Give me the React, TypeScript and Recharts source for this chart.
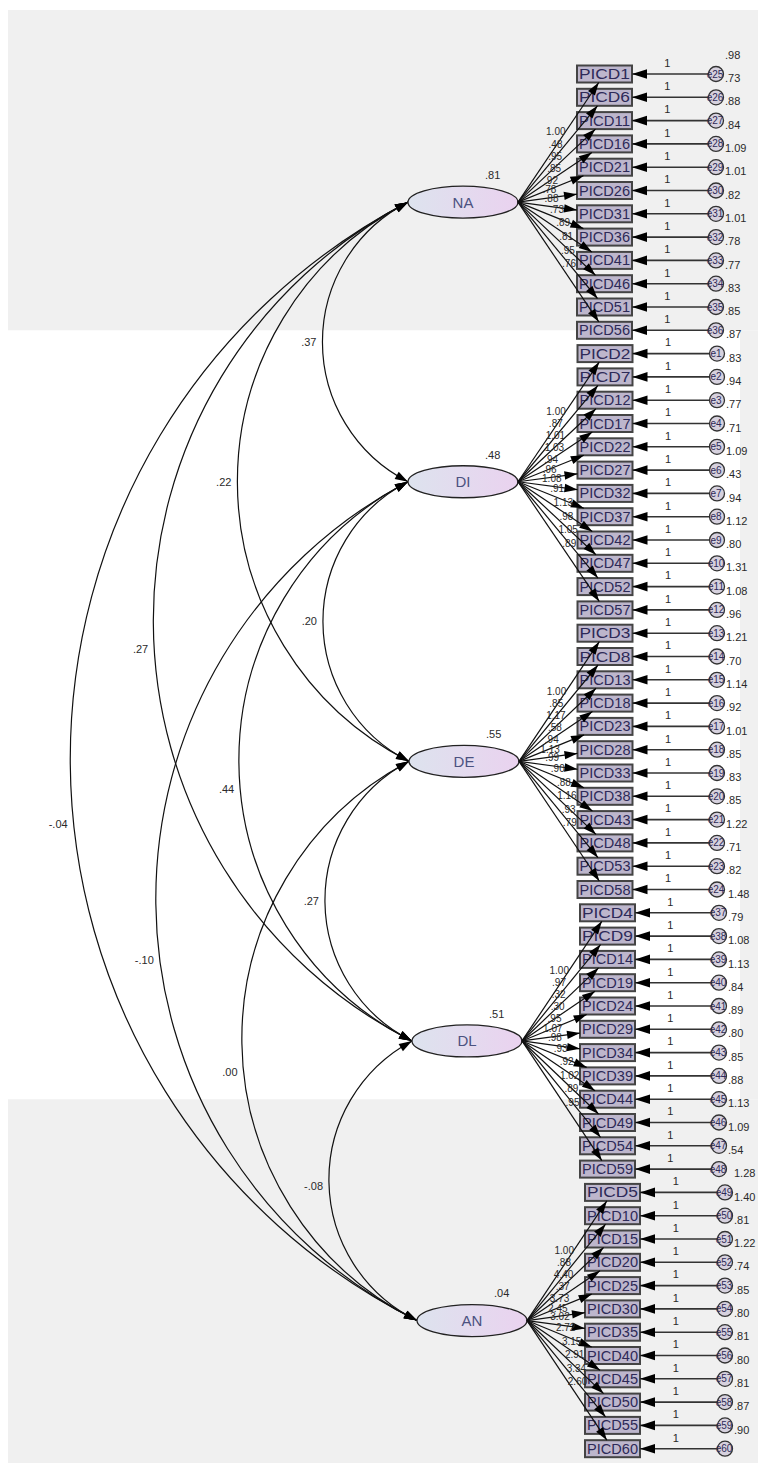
import React from 'react';
import { ScatterChart, Scatter, XAxis, YAxis, ReferenceArea } from 'recharts';

// ---- data ----
const FACTORS = ['NA', 'DI', 'DE', 'DL', 'AN'];
const FACTOR_VARIANCES = [0.81, 0.48, 0.55, 0.51, 0.04];

const ITEMS_NA = ['PICD1', 'PICD6', 'PICD11', 'PICD16', 'PICD21', 'PICD26', 'PICD31', 'PICD36', 'PICD41', 'PICD46', 'PICD51', 'PICD56'];
const ITEMS_DI = ['PICD2', 'PICD7', 'PICD12', 'PICD17', 'PICD22', 'PICD27', 'PICD32', 'PICD37', 'PICD42', 'PICD47', 'PICD52', 'PICD57'];
const ITEMS_DE = ['PICD3', 'PICD8', 'PICD13', 'PICD18', 'PICD23', 'PICD28', 'PICD33', 'PICD38', 'PICD43', 'PICD48', 'PICD53', 'PICD58'];
const ITEMS_DL = ['PICD4', 'PICD9', 'PICD14', 'PICD19', 'PICD24', 'PICD29', 'PICD34', 'PICD39', 'PICD44', 'PICD49', 'PICD54', 'PICD59'];
const ITEMS_AN = ['PICD5', 'PICD10', 'PICD15', 'PICD20', 'PICD25', 'PICD30', 'PICD35', 'PICD40', 'PICD45', 'PICD50', 'PICD55', 'PICD60'];

const ERRORS_NA = ['e25', 'e26', 'e27', 'e28', 'e29', 'e30', 'e31', 'e32', 'e33', 'e34', 'e35', 'e36'];
const ERRORS_DI = ['e1', 'e2', 'e3', 'e4', 'e5', 'e6', 'e7', 'e8', 'e9', 'e10', 'e11', 'e12'];
const ERRORS_DE = ['e13', 'e14', 'e15', 'e16', 'e17', 'e18', 'e19', 'e20', 'e21', 'e22', 'e23', 'e24'];
const ERRORS_DL = ['e37', 'e38', 'e39', 'e40', 'e41', 'e42', 'e43', 'e44', 'e45', 'e46', 'e47', 'e48'];
const ERRORS_AN = ['e49', 'e50', 'e51', 'e52', 'e53', 'e54', 'e55', 'e56', 'e57', 'e58', 'e59', 'e60'];

// regression weights (first few readable, the rest estimated)
const LOADINGS_NA = [1.0, 0.48, 0.95, 0.85, 0.92, 0.78, 0.88, 0.73, 0.89, 0.81, 0.95, 0.76];
const LOADINGS_DI = [1.0, 0.87, 1.01, 1.03, 0.94, 0.96, 1.08, 0.91, 1.13, 0.98, 1.05, 0.89];
const LOADINGS_DE = [1.0, 0.85, 1.17, 0.58, 0.94, 1.13, 0.99, 0.9, 0.88, 1.16, 0.93, 0.79];
const LOADINGS_DL = [1.0, 0.97, 0.32, 0.3, 0.95, 1.07, 0.98, 0.93, 0.92, 1.02, 0.89, 0.95];
const LOADINGS_AN = [1.0, 0.88, 4.4, 0.37, 3.73, 2.45, 3.02, 2.72, 3.15, 2.91, 3.34, 2.6];

// error variances
const ERRVAR_NA = [0.98, 0.73, 0.88, 0.84, 1.09, 1.01, 0.82, 1.01, 0.78, 0.77, 0.83, 0.85];
const ERRVAR_DI = [0.87, 0.83, 0.94, 0.77, 0.71, 1.09, 0.43, 0.94, 1.12, 0.8, 1.31, 1.08];
const ERRVAR_DE = [0.96, 1.21, 0.7, 1.14, 0.92, 1.01, 0.85, 0.83, 0.85, 1.22, 0.71, 0.82];
const ERRVAR_DL = [1.48, 0.79, 1.08, 1.13, 0.84, 0.89, 0.8, 0.85, 0.88, 1.13, 1.09, 0.54];
const ERRVAR_AN = [1.28, 1.4, 0.81, 1.22, 0.74, 0.85, 0.8, 0.81, 0.8, 0.81, 0.87, 0.9];

// factor covariances: [from, to, value]
const COVARIANCES: [string, string, number][] = [
  ['NA', 'DI', 0.37],
  ['NA', 'DE', 0.22],
  ['NA', 'DL', 0.27],
  ['NA', 'AN', -0.04],
  ['DI', 'DE', 0.2],
  ['DI', 'DL', 0.44],
  ['DI', 'AN', -0.1],
  ['DE', 'DL', 0.27],
  ['DE', 'AN', 0.0],
  ['DL', 'AN', -0.08],
];

const ITEMS = [ITEMS_NA, ITEMS_DI, ITEMS_DE, ITEMS_DL, ITEMS_AN];
const ERRORS = [ERRORS_NA, ERRORS_DI, ERRORS_DE, ERRORS_DL, ERRORS_AN];
const LOADINGS = [LOADINGS_NA, LOADINGS_DI, LOADINGS_DE, LOADINGS_DL, LOADINGS_AN];
const ERRVARS = [ERRVAR_NA, ERRVAR_DI, ERRVAR_DE, ERRVAR_DL, ERRVAR_AN];

// ---- layout ----
const W = 758;
const H = 1457;
const PER = 12;
const ROW_PX = 23.3;
const FIRST_ROW_PX = 66;
const ROW_DOMAIN: [number, number] = [-FIRST_ROW_PX / ROW_PX, (H - FIRST_ROW_PX) / ROW_PX];
const FACTOR_X = [455, 455, 456, 459, 464];
const BOX_X = [596.5, 597, 597, 599.5, 604.5];
const ERR_X = [708, 709, 709, 711, 717];
const ELL_RX = 55;
const ELL_RY = 16;
const BOX_HW = 27.5;
const BOX_HH = 8.5;
const ERR_R = 7.5;
const SAG = 0.306;
const COV_LABEL_SHIFT = [0, 0, 28, 63, 0, 28, 59, 0, 31, 5];
const FONT = '"Liberation Sans", Arial, sans-serif';

const itemRow = (g: number, i: number) => g * PER + i;
const factorRow = (g: number) => g * PER + (PER - 1) / 2;

const fmt = (v: number) => {
  const s = Math.abs(v).toFixed(2);
  return (v < 0 ? '-' : '') + (s.startsWith('0') ? s.slice(1) : s);
};

const factorPoints = FACTORS.map((name, g) => ({ x: FACTOR_X[g], y: factorRow(g), name, g }));
const boxPoints = ITEMS.map((list, g) => list.map((name, i) => ({ x: BOX_X[g], y: itemRow(g, i), name })));
const errPoints = ERRORS.map((list, g) =>
  list.map((name, i) => ({ x: ERR_X[g], y: itemRow(g, i), name, v: ERRVARS[g][i] }))
);
const fanPoints = ITEMS.map((list, g) =>
  list.flatMap((_, i) => [
    { x: FACTOR_X[g], y: factorRow(g) },
    { x: BOX_X[g], y: itemRow(g, i) },
  ])
);
const errLinePoints = ITEMS.map((list, g) =>
  list.flatMap((_, i) => [
    { x: ERR_X[g], y: itemRow(g, i) },
    { x: BOX_X[g], y: itemRow(g, i) },
  ])
);
const covPoints = COVARIANCES.flatMap(([a, b]) => {
  const ga = FACTORS.indexOf(a);
  const gb = FACTORS.indexOf(b);
  return [
    { x: FACTOR_X[ga], y: factorRow(ga) },
    { x: FACTOR_X[gb], y: factorRow(gb) },
  ];
});

type P = { x: number; y: number };

function arrowHead(tip: P, from: P, len: number, hw: number, key: string) {
  const dx = tip.x - from.x;
  const dy = tip.y - from.y;
  const d = Math.hypot(dx, dy) || 1;
  const ux = dx / d;
  const uy = dy / d;
  const bx = tip.x - ux * len;
  const by = tip.y - uy * len;
  const pts = `${tip.x},${tip.y} ${bx - uy * hw},${by + ux * hw} ${bx + uy * hw},${by - ux * hw}`;
  return <polygon key={key} points={pts} fill="#000" />;
}

// point where the segment from s to the box centre c enters the box
function boxEntry(s: P, c: P): P {
  const dx = c.x - s.x;
  const dy = c.y - s.y;
  const tx = dx !== 0 ? 1 - BOX_HW / Math.abs(dx) : -Infinity;
  const ty = dy !== 0 ? 1 - BOX_HH / Math.abs(dy) : -Infinity;
  const t = Math.max(tx, ty);
  return { x: s.x + dx * t, y: s.y + dy * t };
}

const textStyle = { fontFamily: FONT, fontSize: 11, fill: '#2a2a2a' };

const BoxShape = (props: any) => {
  const { cx, cy, payload } = props;
  return (
    <g>
      <rect x={cx - BOX_HW} y={cy - BOX_HH} width={BOX_HW * 2} height={BOX_HH * 2} fill="#bdb6cc" stroke="#444" strokeWidth={2} />
      <text
        x={cx}
        y={cy}
        dy="0.36em"
        textAnchor="middle"
        textLength={BOX_HW * 2 - 4}
        lengthAdjust="spacingAndGlyphs"
        style={{ fontFamily: FONT, fontSize: 14, fill: '#2e2a58' }}
      >
        {payload.name}
      </text>
    </g>
  );
};

const ErrShape = (props: any) => {
  const { cx, cy, payload } = props;
  return (
    <g>
      <circle cx={cx} cy={cy} r={ERR_R} fill="#d6d1de" stroke="#333" strokeWidth={1.3} />
      <text x={cx - 1} y={cy} dy="0.35em" textAnchor="middle" style={{ fontFamily: FONT, fontSize: 10, fill: '#2e2a58' }}>
        {payload.name}
      </text>
      <text x={cx + 9} y={cy - 19} dy="0.35em" textAnchor="start" style={textStyle}>
        {fmt(payload.v)}
      </text>
    </g>
  );
};

const FactorShape = (props: any) => {
  const { cx, cy, payload } = props;
  const id = `grad-${payload.name}`;
  return (
    <g>
      <defs>
        <linearGradient id={id} x1="0" y1="0" x2="1" y2="0">
          <stop offset="0%" stopColor="#dde3ee" />
          <stop offset="100%" stopColor="#ead2ef" />
        </linearGradient>
      </defs>
      <ellipse cx={cx} cy={cy} rx={ELL_RX} ry={ELL_RY} fill={`url(#${id})`} stroke="#222" strokeWidth={1.3} />
      <text x={cx} y={cy} dy="0.36em" textAnchor="middle" style={{ fontFamily: FONT, fontSize: 15, fill: '#4b5280' }}>
        {payload.name}
      </text>
      <text x={cx + 22} y={cy - 27} dy="0.35em" textAnchor="start" style={textStyle}>
        {fmt(FACTOR_VARIANCES[payload.g])}
      </text>
    </g>
  );
};

const NoShape = () => <g />;

const fanLine = (g: number) => (props: any) => {
  const pts: P[] = props.points || [];
  const out: React.ReactNode[] = [];
  for (let k = 0; k + 1 < pts.length; k += 2) {
    const i = k / 2;
    const s = { x: pts[k].x + ELL_RX, y: pts[k].y };
    const e = boxEntry(s, pts[k + 1]);
    out.push(<line key={`l${i}`} x1={s.x} y1={s.y} x2={e.x} y2={e.y} stroke="#111" strokeWidth={1.2} />);
    out.push(arrowHead(e, s, 13, 4.2, `a${i}`));
    const dx = e.x - s.x;
    const dy = e.y - s.y;
    const d = Math.hypot(dx, dy);
    const lx = s.x + dx * 0.55 + (dy / d) * 8;
    const ly = s.y + dy * 0.55 - (dx / d) * 8;
    out.push(
      <text key={`t${i}`} x={lx} y={ly} dy="0.35em" textAnchor="middle" style={{ ...textStyle, fontSize: 10 }}>
        {fmt(LOADINGS[g][i])}
      </text>
    );
  }
  return <g>{out}</g>;
};

const errLine = (props: any) => {
  const pts: P[] = props.points || [];
  const out: React.ReactNode[] = [];
  for (let k = 0; k + 1 < pts.length; k += 2) {
    const s = { x: pts[k].x - ERR_R, y: pts[k].y };
    const e = { x: pts[k + 1].x + BOX_HW, y: pts[k + 1].y };
    out.push(<line key={`l${k}`} x1={s.x} y1={s.y} x2={e.x} y2={e.y} stroke="#333" strokeWidth={1.6} />);
    out.push(arrowHead(e, s, 15, 4.8, `a${k}`));
    out.push(
      <text key={`t${k}`} x={(s.x + e.x) / 2 - 3} y={s.y - 11} dy="0.35em" textAnchor="middle" style={textStyle}>
        1
      </text>
    );
  }
  return <g>{out}</g>;
};

const covLine = (props: any) => {
  const pts: P[] = props.points || [];
  const out: React.ReactNode[] = [];
  for (let k = 0; k + 1 < pts.length; k += 2) {
    const c = k / 2;
    const p1 = { x: pts[k].x - ELL_RX, y: pts[k].y };
    const p2 = { x: pts[k + 1].x - ELL_RX, y: pts[k + 1].y };
    const L = Math.hypot(p2.x - p1.x, p2.y - p1.y);
    const ux = (p2.x - p1.x) / L;
    const uy = (p2.y - p1.y) / L;
    const bx = -uy;
    const by = ux;
    const s = SAG * L;
    const R = (L * L) / 4 / (2 * s) + s / 2;
    const mx = (p1.x + p2.x) / 2;
    const my = (p1.y + p2.y) / 2;
    const ox = mx - bx * (R - s);
    const oy = my - by * (R - s);
    out.push(
      <path
        key={`c${c}`}
        d={`M${p1.x},${p1.y} A${R},${R} 0 0 0 ${p2.x},${p2.y}`}
        fill="none"
        stroke="#111"
        strokeWidth={1.2}
      />
    );
    const delta = 12 / R;
    const rot = (v: P, a: number) => ({ x: v.x * Math.cos(a) - v.y * Math.sin(a), y: v.x * Math.sin(a) + v.y * Math.cos(a) });
    const v1 = rot({ x: p1.x - ox, y: p1.y - oy }, -delta);
    const v2 = rot({ x: p2.x - ox, y: p2.y - oy }, delta);
    out.push(arrowHead(p1, { x: ox + v1.x, y: oy + v1.y }, 13, 4.2, `h1${c}`));
    out.push(arrowHead(p2, { x: ox + v2.x, y: oy + v2.y }, 13, 4.2, `h2${c}`));
    const ly = my + COV_LABEL_SHIFT[c];
    const lx = ox - Math.sqrt(Math.max(0, R * R - (ly - oy) * (ly - oy)));
    out.push(
      <text key={`t${c}`} x={lx - 6} y={ly} dy="0.35em" textAnchor="end" style={textStyle}>
        {fmt(COVARIANCES[c][2])}
      </text>
    );
  }
  return <g>{out}</g>;
};

export default function App() {
  return (
    <div style={{ width: W, height: H }}>
      <ScatterChart width={W} height={H} margin={{ top: 0, right: 0, bottom: 0, left: 0 }}>
        <XAxis type="number" dataKey="x" domain={[0, W]} allowDataOverflow hide />
        <YAxis type="number" dataKey="y" domain={ROW_DOMAIN} allowDataOverflow reversed hide />
        <ReferenceArea x1={0} x2={W} y1={ROW_DOMAIN[0] + 2 / ROW_PX} y2={11} fill="#f0f0f0" fillOpacity={1} stroke="none" />
        <ReferenceArea x1={732} x2={W} y1={11} y2={44} fill="#f0f0f0" fillOpacity={1} stroke="none" />
        <ReferenceArea x1={0} x2={W} y1={44} y2={ROW_DOMAIN[1] - 2 / ROW_PX} fill="#f0f0f0" fillOpacity={1} stroke="none" />

        {boxPoints.map((data, g) => (
          <Scatter key={`box${g}`} data={data} shape={BoxShape} isAnimationActive={false} />
        ))}
        {errPoints.map((data, g) => (
          <Scatter key={`err${g}`} data={data} shape={ErrShape} isAnimationActive={false} />
        ))}
        {errLinePoints.map((data, g) => (
          <Scatter key={`errl${g}`} data={data} shape={NoShape} line={errLine} isAnimationActive={false} />
        ))}
        <Scatter data={covPoints} shape={NoShape} line={covLine} isAnimationActive={false} />
        <Scatter data={factorPoints} shape={FactorShape} isAnimationActive={false} />
        {fanPoints.map((data, g) => (
          <Scatter key={`fan${g}`} data={data} shape={NoShape} line={fanLine(g)} isAnimationActive={false} />
        ))}
      </ScatterChart>
    </div>
  );
}
